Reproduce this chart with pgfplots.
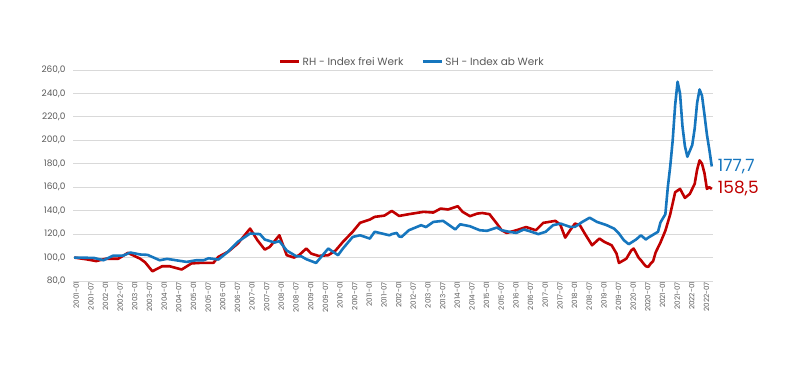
\documentclass[border=0pt]{standalone}
\usepackage{fontspec}
\setmainfont{Poppins}
\usepackage{pgfplots}
\pgfplotsset{compat=1.18}
\definecolor{rhred}{RGB}{192,0,0}
\definecolor{shblue}{RGB}{22,118,190}
\definecolor{gridgray}{RGB}{217,217,217}
\definecolor{txtgray}{RGB}{89,89,89}
\begin{document}
\begin{tikzpicture}
\useasboundingbox (0,0) rectangle (805bp,386bp);
\begin{axis}[
  at={(73bp,105bp)}, anchor=south west,
  scale only axis, width=640bp, height=211bp,
  xmin=-0.5, xmax=261.5, ymin=80, ymax=260,
  xtick={0,6,...,258},
  xticklabels={2001-01,2001-07,2002-01,2002-07,2003-01,2003-07,2004-01,2004-07,2005-01,2005-07,2006-01,2006-07,2007-01,2007-07,2008-01,2008-07,2009-01,2009-07,2010-01,2010-07,2011-01,2011-07,2012-01,2012-07,2013-01,2013-07,2014-01,2014-07,2015-01,2015-07,2016-01,2016-07,2017-01,2017-07,2018-01,2018-07,2019-01,2019-07,2020-01,2020-07,2021-01,2021-07,2022-01,2022-07},
  ytick={80,100,...,260},
  ymajorgrids, grid style={gridgray, line width=0.8bp},
  major tick length=0pt,
  axis line style={draw=none},
  axis x line*=bottom, axis y line*=left,
  /pgf/number format/assume math mode=true,
  yticklabel style={font=\fontsize{9}{10}\selectfont, text=txtgray, xshift=-4bp, /pgf/number format/.cd, fixed, fixed zerofill, precision=1, use comma},
  xticklabel style={font=\fontsize{7.2}{8}\selectfont, text=txtgray, rotate=90, anchor=east, inner sep=1bp, yshift=-2bp},
  legend columns=2,
  legend style={at={(0.53,1.038)}, anchor=center, draw=none, fill=none, font=\fontsize{10.5}{12}\selectfont, text=txtgray, /tikz/every even column/.append style={column sep=16bp}},
  legend image code/.code={\draw[#1, line width=3bp] (0bp,0bp) -- (19bp,0bp);},
  every axis plot/.append style={line width=2.6bp, line join=round},
  clip=false,
]
\addplot[rhred, mark=none] coordinates {
(0,100) (5,98.5) (9,97) (13,99) (18,99) (22,104) (27,99) (29,96) (32,88.3) (36,92.6) (39,92.6) (44,89.8) (48,95) (52,95.5) (57,95.5) (59,100.6) (63,105) (67,112) (72,124.7) (75,114.8) (78,106.8) (80,109) (84,119) (87,102) (90,100) (92,102) (95,107.7) (97,103.4) (100,101.4) (104,102) (107,106) (110,113.4) (114,122) (117,129.6) (121,132.4) (123,134.7) (127,135.8) (130,139.8) (133,135.5) (137,137) (143,139) (147,138.4) (150,141.8) (153,141) (157,143.8) (159,139) (162,135.3) (165,137.5) (167,138) (170,137) (173,129) (175,123.3) (177,121) (181,123.3) (185,126) (189,123.3) (192,129.6) (197,131.3) (199,128) (201,117) (203,123.3) (205,129) (207,127.6) (209,120.5) (212,110.5) (215,116.2) (217,113.4) (220,110.5) (222,103.4) (223,95.4) (226,99) (228,106) (229,107.7) (230,104) (231,100) (232,97.7) (233,95) (234,92.6) (235,92) (236,94.9) (237,97) (238,104.3) (240,112.9) (242,122.9) (244,137) (246,155.7) (248,158.6) (250,150.9) (252,154.3) (254,162.9) (255,175) (256,182.9) (257,180) (258,172) (259,158.6) (260,160) (261,158.5)
};
\addlegendentry{RH - Index frei Werk}
\addplot[shblue, mark=none] coordinates {
(0,100) (8,99.7) (12,97.7) (16,101.7) (20,101.7) (23,104.3) (27,102.6) (30,102.3) (35,97.7) (38,98.9) (46,96.3) (50,97.7) (53,97.7) (55,99.4) (59,98.3) (63,105) (67,113.5) (72,120.5) (76,120) (78,115.4) (82,112.8) (84,114) (87,106) (91,101) (93,101) (95,98.6) (99,95.4) (104,107.7) (108,102) (110,107.7) (114,117.6) (117,119) (121,116.2) (123,122) (126,120.5) (129,119) (130,120) (132,121) (133,118) (134,117.6) (137,123.3) (142,127.6) (144,126) (147,130.4) (151,131.3) (156,124) (158,128.4) (162,126.7) (166,123.3) (169,122.8) (173,125.6) (175,123.3) (178,122) (181,121) (184,123.9) (186,122.8) (190,120) (193,122) (196,127.6) (199,129) (203,126.2) (205,126.2) (208,130.4) (211,134) (214,130.4) (218,127.6) (221,124.7) (223,120.5) (225,114.8) (227,111.4) (230,115.4) (232,119) (234,115.4) (235,117) (237,119.5) (239,122) (240,130) (242,137) (243,160) (244,178) (245,200) (246,230) (247,250) (248,240) (249,212) (250,195) (251,186) (252,191) (253,196) (254,210) (255,232) (256,243.4) (257,238) (258,222) (259,205) (260,192) (261,177.7)
};
\addlegendentry{SH - Index ab Werk}
\node[anchor=west, inner sep=0pt, xshift=6bp, text=shblue, font=\fontsize{17}{19}\selectfont] at (axis cs:261,177.7) {177,7};
\node[anchor=west, inner sep=0pt, xshift=6bp, text=rhred, font=\fontsize{17}{19}\selectfont] at (axis cs:261,158.5) {158,5};
\end{axis}
\end{tikzpicture}
\end{document}
